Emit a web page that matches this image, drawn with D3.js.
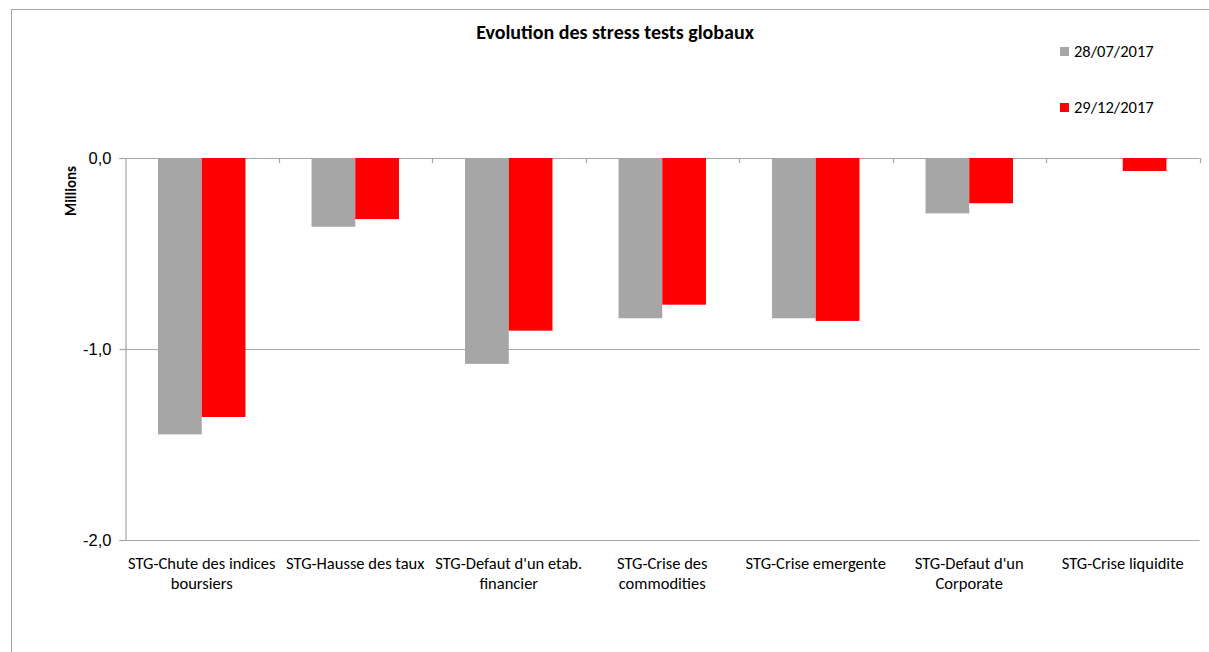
<!DOCTYPE html>
<html>
<head>
<meta charset="utf-8">
<script src="https://cdn.jsdelivr.net/npm/d3@7"></script>
<style>
  html, body { margin: 0; padding: 0; background: #fff; }
  svg { display: block; font-family: Carlito, Calibri, Lato, "Open Sans", sans-serif; }
</style>
</head>
<body>
<svg id="chart" width="1209" height="652"></svg>
<script>
// Stress test scenarios (category labels split into lines)
const categories = [
  ["STG-Chute des indices", "boursiers"],
  ["STG-Hausse des taux"],
  ["STG-Defaut d'un etab.", "financier"],
  ["STG-Crise des", "commodities"],
  ["STG-Crise emergente"],
  ["STG-Defaut d'un", "Corporate"],
  ["STG-Crise liquidite"]
];
const seriesNames = ["28/07/2017", "29/12/2017"];
const seriesColors = ["#a6a6a6", "#ff0000"];
// Values in millions
const values0728 = [-1.447, -0.36, -1.078, -0.839, -0.839, -0.29, 0];
const values1229 = [-1.356, -0.32, -0.904, -0.768, -0.853, -0.237, -0.068];
const yTicks = [0, -1, -2];

const svg = d3.select("#chart");
const W = 1209, H = 652;

// outer chart frame
svg.append("rect")
  .attr("x", 11.5).attr("y", 9.5)
  .attr("width", W + 20).attr("height", H + 20)
  .attr("fill", "#fff").attr("stroke", "#a6a6a6").attr("stroke-width", 1);

const plot = { left: 125, right: 1199.5, top: 158, bottom: 540 };

const catIdx = categories.map((d, i) => i);
const x0 = d3.scaleBand().domain(catIdx).range([plot.left, plot.right]).paddingInner(0).paddingOuter(0);
const x1 = d3.scaleBand().domain([0, 1]).range([0, x0.bandwidth()]).paddingInner(0).paddingOuter(0.755);
const y = d3.scaleLinear().domain([-2, 0]).range([plot.bottom, plot.top]);

const locale = d3.formatLocale({ decimal: ",", thousands: " ", grouping: [3], currency: ["", "€"], minus: "-" });
const fmt = locale.format(".1f");

// horizontal gridlines
svg.append("g")
  .selectAll("line").data(yTicks).join("line")
  .attr("x1", plot.left).attr("x2", plot.right)
  .attr("y1", d => Math.round(y(d)) + 0.5).attr("y2", d => Math.round(y(d)) + 0.5)
  .attr("stroke", "#a6a6a6").attr("stroke-width", 1.2);

// bars
const series = [values0728, values1229];
series.forEach((vals, s) => {
  svg.append("g")
    .selectAll("rect").data(vals).join("rect")
    .attr("x", (d, i) => x0(i) + x1(s))
    .attr("width", x1.bandwidth())
    .attr("y", d => y(Math.max(0, d)))
    .attr("height", d => Math.abs(y(d) - y(0)))
    .attr("fill", seriesColors[s]);
});

// value axis
const yAxis = d3.axisLeft(y).tickValues(yTicks).tickFormat(fmt).tickSize(6).tickPadding(8);
const gy = svg.append("g").attr("transform", `translate(${plot.left + 0.5},0)`).call(yAxis);
gy.select(".domain").attr("stroke", "#a6a6a6").attr("stroke-width", 1.2);
gy.selectAll(".tick line").attr("stroke", "#a6a6a6").attr("stroke-width", 1.2);
gy.selectAll(".tick text").attr("font-size", 16.5).attr("fill", "#000").attr("font-family", null).attr("dy", "0.32em");

// category axis along the zero line, ticks pointing down
const xTickPos = d3.range(categories.length + 1).map(i => plot.left + i * x0.step());
svg.append("g").selectAll("line").data(xTickPos.slice(1)).join("line")
  .attr("x1", d => Math.round(d) + 0.5).attr("x2", d => Math.round(d) + 0.5)
  .attr("y1", y(0)).attr("y2", y(0) + 5)
  .attr("stroke", "#a6a6a6").attr("stroke-width", 1.2);

// category labels
const labels = svg.append("g").selectAll("text").data(categories).join("text")
  .attr("text-anchor", "middle")
  .attr("font-size", 16.5)
  .attr("fill", "#000");
labels.each(function (lines, i) {
  d3.select(this).selectAll("tspan").data(lines).join("tspan")
    .attr("x", x0(i) + x0.bandwidth() / 2)
    .attr("y", (d, j) => 569 + j * 20)
    .text(d => d);
});

// axis title
svg.append("text")
  .attr("transform", "translate(76,191) rotate(-90)")
  .attr("text-anchor", "middle")
  .attr("font-size", 15).attr("font-weight", "bold")
  .text("Millions");

// chart title
svg.append("text")
  .attr("x", 615).attr("y", 39)
  .attr("text-anchor", "middle")
  .attr("font-size", 20).attr("font-weight", "bold")
  .text("Evolution des stress tests globaux");

// legend
const legend = svg.append("g").selectAll("g").data(seriesNames).join("g")
  .attr("transform", (d, i) => `translate(1060,${47 + i * 56})`);
legend.append("rect").attr("width", 9).attr("height", 9).attr("fill", (d, i) => seriesColors[i]);
legend.append("text").attr("x", 14).attr("y", 10).attr("font-size", 16.5).text(d => d);
</script>
</body>
</html>
